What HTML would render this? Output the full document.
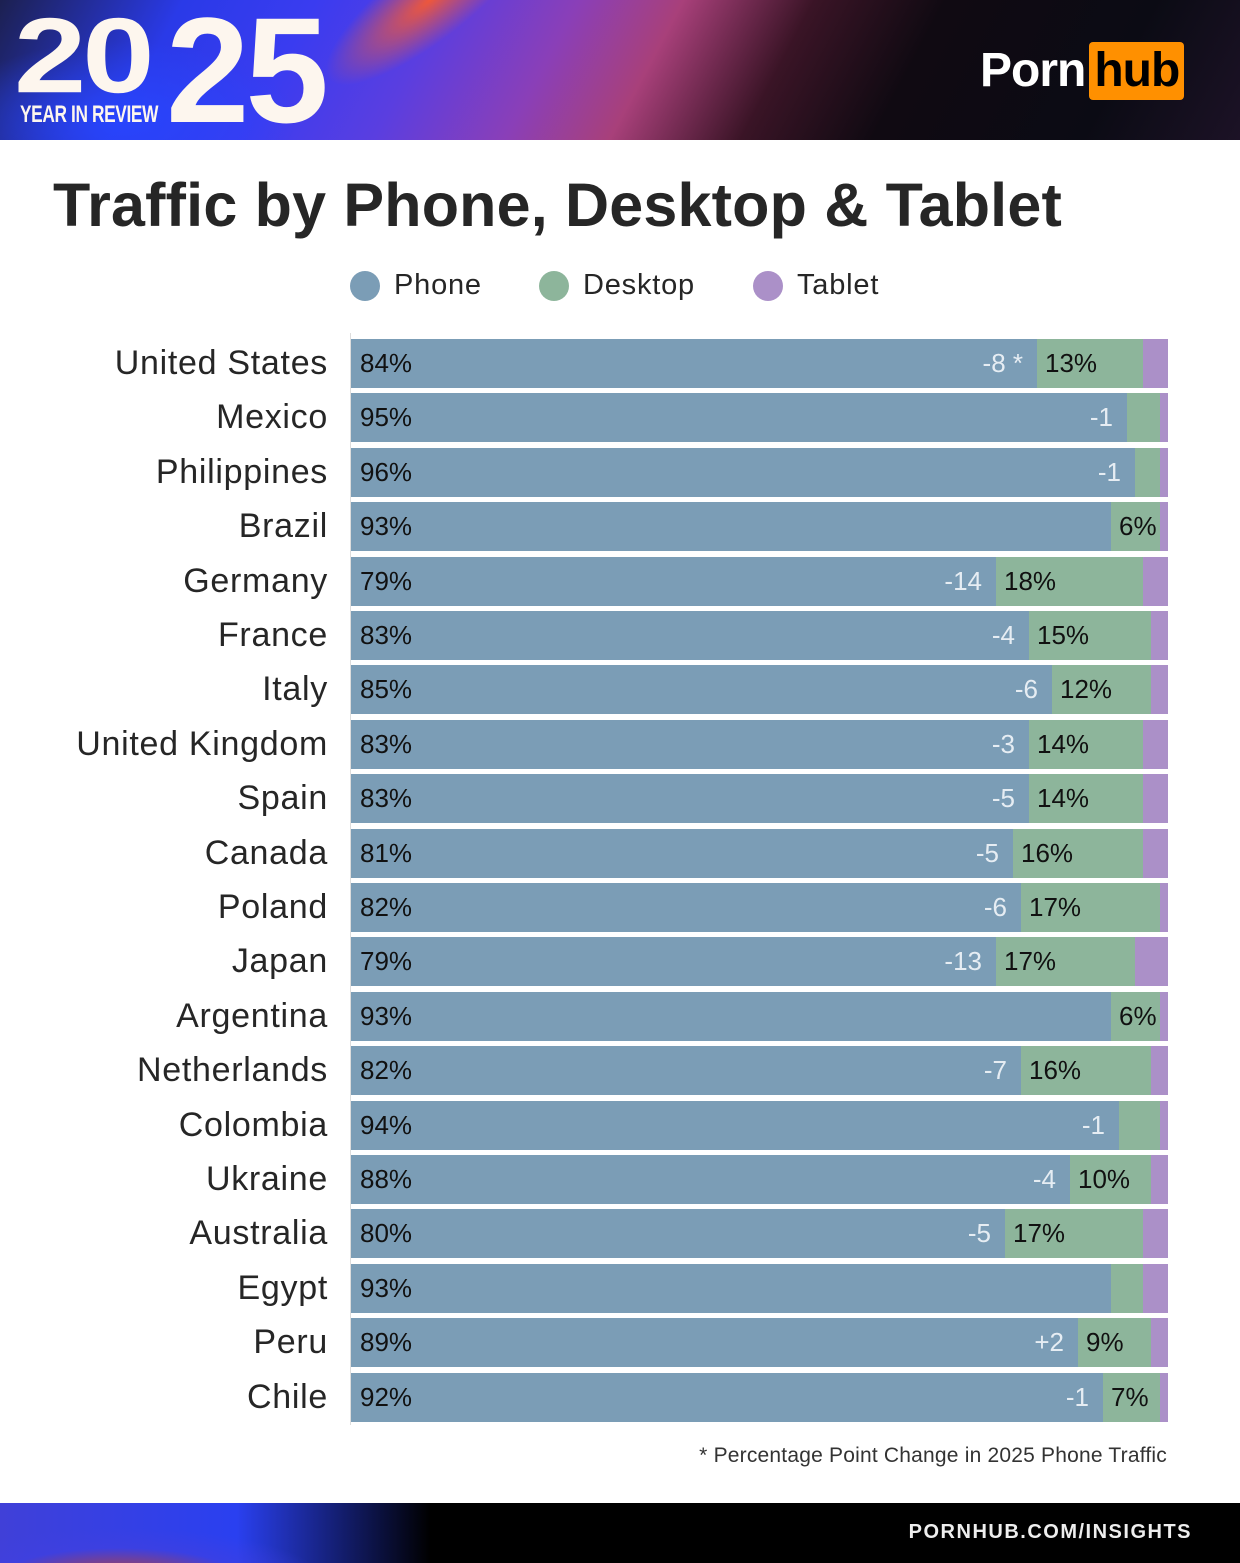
<!DOCTYPE html>
<html><head><meta charset="utf-8"><style>
*{margin:0;padding:0;box-sizing:border-box}
body{width:1240px;height:1563px;background:#fff;position:relative;overflow:hidden;font-family:"Liberation Sans",sans-serif;color:#262626}
.hdr{position:absolute;left:0;top:0;width:1240px;height:140px;overflow:hidden;background:
linear-gradient(118deg,#1c2050 0%,#2a3ae8 14%,#3a3cf0 24%,#5a3ee0 34%,#8a3fb8 44%,#a8407a 52%,#3a1426 62%,#100a12 72%,#0b0b14 88%,#1c1226 100%);}
.streak{position:absolute;left:300px;top:-40px;width:260px;height:80px;transform:rotate(-38deg);background:radial-gradient(ellipse at center,rgba(255,90,40,.9) 0%,rgba(255,90,40,0) 70%);}
.blue{position:absolute;left:-60px;top:40px;width:360px;height:160px;background:radial-gradient(ellipse at center,rgba(40,70,255,.9) 0%,rgba(40,70,255,0) 70%)}
.d20{position:absolute;left:14px;top:2px;font-size:130px;font-weight:bold;color:#fdf6ee;letter-spacing:-4px;line-height:130px;transform:scaleY(.82);transform-origin:top}
.d25{position:absolute;left:166px;top:-5px;font-size:150px;font-weight:bold;color:#fdf6ee;letter-spacing:-4px;line-height:150px}
.yir{position:absolute;left:20px;top:101px;font-size:24px;font-weight:bold;color:#fdf6ee;transform:scaleX(.72);transform-origin:left;letter-spacing:-0.5px;white-space:nowrap}
.logo{position:absolute;left:980px;top:42px;height:58px;font-size:48px;font-weight:bold;color:#fff;line-height:58px;letter-spacing:-1px}
.logo b{display:inline-block;background:#ff9000;color:#000;border-radius:4px;padding:0 5px;margin-left:4px;height:58px}
h1{position:absolute;left:53px;top:170px;font-size:61px;font-weight:bold;color:#262626;letter-spacing:0.2px;white-space:nowrap}
.leg{position:absolute;top:268px;font-size:29px;line-height:34px;letter-spacing:0.8px}
.leg i{position:absolute;left:-44px;top:3px;width:30px;height:30px;border-radius:50%}
.axis{position:absolute;left:350px;top:333px;width:1px;height:1092px;background:#ddd}
.row{position:absolute;left:351px;width:817px;height:49px;background:#ab90c8;display:flex}
.p{background:#7b9db6;height:49px;position:relative}
.d{background:#8db59b;height:49px;position:relative}
.pl{position:absolute;left:9px;top:9px;font-size:26px;color:#111}
.ch{position:absolute;right:14px;top:9px;font-size:26px;color:#e6edf3}
.dl{position:absolute;left:8px;top:9px;font-size:26px;color:#111}
.cn{position:absolute;right:912px;font-size:34px;letter-spacing:0.7px;color:#262626;text-align:right;white-space:nowrap}
.note{position:absolute;right:73px;top:1444px;font-size:21px;color:#333;letter-spacing:0.2px}
.ftr{position:absolute;left:0;top:1503px;width:1240px;height:60px;background:#000}
.fgl{position:absolute;left:0;top:0;width:430px;height:60px;background:radial-gradient(ellipse 200px 50px at 120px 75px,#c04030 0%,rgba(64,64,224,.6) 60%,rgba(0,0,0,0) 100%),linear-gradient(90deg,#4040d8,#2a40f0 55%,#000 100%)}
.url{position:absolute;right:48px;top:18px;font-size:20px;font-weight:bold;color:#eee;letter-spacing:1.5px}
</style></head><body>
<div class="hdr"><div class="blue"></div><div class="streak"></div>
<div class="d20">20</div>
<div class="d25">25</div>
<div class="yir">YEAR IN REVIEW</div>
<div class="logo">Porn<b>hub</b></div>
</div>
<h1>Traffic by Phone, Desktop &amp; Tablet</h1>
<div class="leg" style="left:394px"><i style="background:#7b9db6"></i>Phone</div>
<div class="leg" style="left:583px"><i style="background:#8db59b"></i>Desktop</div>
<div class="leg" style="left:797px"><i style="background:#ab90c8"></i>Tablet</div>
<div class="axis"></div>

<div class="cn" style="top:344px">United States</div>
<div class="row" style="top:339px"><div class="p" style="width:686px"><span class="pl">84%</span><span class="ch">-8 *</span></div><div class="d" style="width:106px"><span class="dl">13%</span></div></div>
<div class="cn" style="top:398px">Mexico</div>
<div class="row" style="top:393px"><div class="p" style="width:776px"><span class="pl">95%</span><span class="ch">-1</span></div><div class="d" style="width:33px"></div></div>
<div class="cn" style="top:453px">Philippines</div>
<div class="row" style="top:448px"><div class="p" style="width:784px"><span class="pl">96%</span><span class="ch">-1</span></div><div class="d" style="width:25px"></div></div>
<div class="cn" style="top:507px">Brazil</div>
<div class="row" style="top:502px"><div class="p" style="width:760px"><span class="pl">93%</span></div><div class="d" style="width:49px"><span class="dl">6%</span></div></div>
<div class="cn" style="top:562px">Germany</div>
<div class="row" style="top:557px"><div class="p" style="width:645px"><span class="pl">79%</span><span class="ch">-14</span></div><div class="d" style="width:147px"><span class="dl">18%</span></div></div>
<div class="cn" style="top:616px">France</div>
<div class="row" style="top:611px"><div class="p" style="width:678px"><span class="pl">83%</span><span class="ch">-4</span></div><div class="d" style="width:122px"><span class="dl">15%</span></div></div>
<div class="cn" style="top:670px">Italy</div>
<div class="row" style="top:665px"><div class="p" style="width:701px"><span class="pl">85%</span><span class="ch">-6</span></div><div class="d" style="width:99px"><span class="dl">12%</span></div></div>
<div class="cn" style="top:725px">United Kingdom</div>
<div class="row" style="top:720px"><div class="p" style="width:678px"><span class="pl">83%</span><span class="ch">-3</span></div><div class="d" style="width:114px"><span class="dl">14%</span></div></div>
<div class="cn" style="top:779px">Spain</div>
<div class="row" style="top:774px"><div class="p" style="width:678px"><span class="pl">83%</span><span class="ch">-5</span></div><div class="d" style="width:114px"><span class="dl">14%</span></div></div>
<div class="cn" style="top:834px">Canada</div>
<div class="row" style="top:829px"><div class="p" style="width:662px"><span class="pl">81%</span><span class="ch">-5</span></div><div class="d" style="width:130px"><span class="dl">16%</span></div></div>
<div class="cn" style="top:888px">Poland</div>
<div class="row" style="top:883px"><div class="p" style="width:670px"><span class="pl">82%</span><span class="ch">-6</span></div><div class="d" style="width:139px"><span class="dl">17%</span></div></div>
<div class="cn" style="top:942px">Japan</div>
<div class="row" style="top:937px"><div class="p" style="width:645px"><span class="pl">79%</span><span class="ch">-13</span></div><div class="d" style="width:139px"><span class="dl">17%</span></div></div>
<div class="cn" style="top:997px">Argentina</div>
<div class="row" style="top:992px"><div class="p" style="width:760px"><span class="pl">93%</span></div><div class="d" style="width:49px"><span class="dl">6%</span></div></div>
<div class="cn" style="top:1051px">Netherlands</div>
<div class="row" style="top:1046px"><div class="p" style="width:670px"><span class="pl">82%</span><span class="ch">-7</span></div><div class="d" style="width:130px"><span class="dl">16%</span></div></div>
<div class="cn" style="top:1106px">Colombia</div>
<div class="row" style="top:1101px"><div class="p" style="width:768px"><span class="pl">94%</span><span class="ch">-1</span></div><div class="d" style="width:41px"></div></div>
<div class="cn" style="top:1160px">Ukraine</div>
<div class="row" style="top:1155px"><div class="p" style="width:719px"><span class="pl">88%</span><span class="ch">-4</span></div><div class="d" style="width:81px"><span class="dl">10%</span></div></div>
<div class="cn" style="top:1214px">Australia</div>
<div class="row" style="top:1209px"><div class="p" style="width:654px"><span class="pl">80%</span><span class="ch">-5</span></div><div class="d" style="width:138px"><span class="dl">17%</span></div></div>
<div class="cn" style="top:1269px">Egypt</div>
<div class="row" style="top:1264px"><div class="p" style="width:760px"><span class="pl">93%</span></div><div class="d" style="width:32px"></div></div>
<div class="cn" style="top:1323px">Peru</div>
<div class="row" style="top:1318px"><div class="p" style="width:727px"><span class="pl">89%</span><span class="ch">+2</span></div><div class="d" style="width:73px"><span class="dl">9%</span></div></div>
<div class="cn" style="top:1378px">Chile</div>
<div class="row" style="top:1373px"><div class="p" style="width:752px"><span class="pl">92%</span><span class="ch">-1</span></div><div class="d" style="width:57px"><span class="dl">7%</span></div></div>

<div class="note">* Percentage Point Change in 2025 Phone Traffic</div>
<div class="ftr"><div class="fgl"></div><div class="url">PORNHUB.COM/INSIGHTS</div></div>
</body></html>
